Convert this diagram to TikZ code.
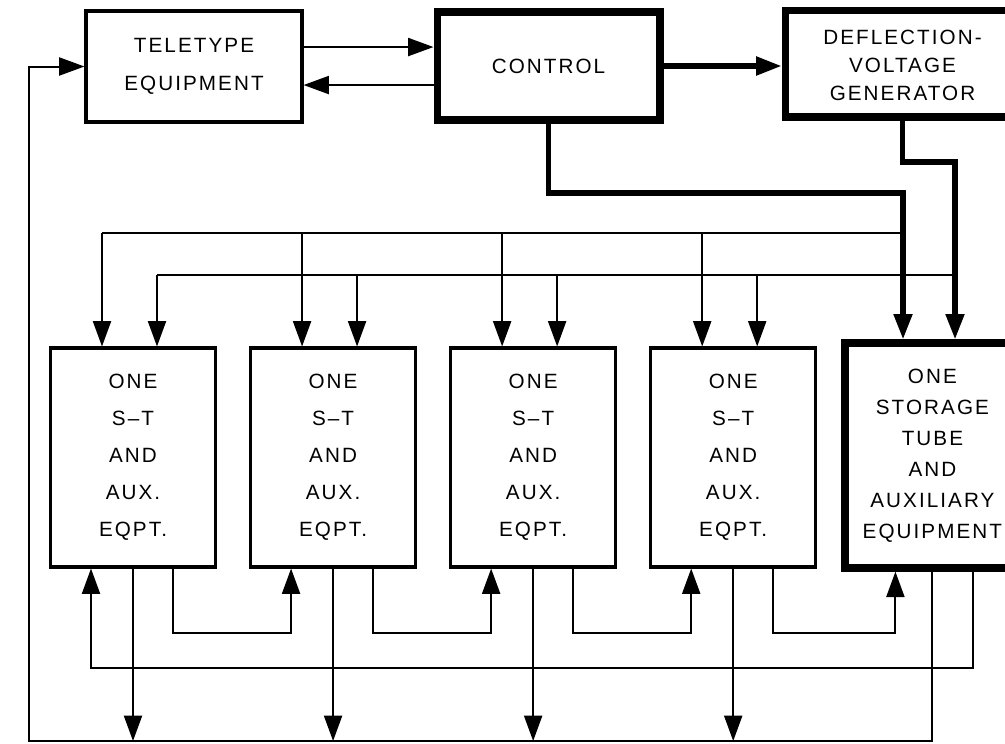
\documentclass[tikz,border=0pt]{standalone}
\usepackage{fontspec}
\setmainfont{Liberation Sans}[LetterSpace=10]
\usetikzlibrary{positioning,arrows.meta}

\begin{document}
\begin{tikzpicture}[x=0.75pt, y=-0.75pt,
	>={Triangle[length=19pt,width=13.5pt]},
	box/.style={draw, line width=2.3pt, align=center, inner sep=0pt},
	heavybox/.style={draw, line width=5.5pt, align=center, inner sep=0pt},
	wire/.style={line width=1.5pt},
	heavy/.style={line width=3.8pt},
	unit/.style={box, minimum width=123.75pt, minimum height=164.25pt,
		font=\fontsize{15.5pt}{27.75pt}\selectfont}]
	\path[use as bounding box] (0,0) rectangle (1005,743);
	\clip (0,0) rectangle (1005,743);

	\node[box, minimum width=162pt, minimum height=83.25pt,
		font=\fontsize{15.5pt}{28.5pt}\selectfont] (tt) at (194,66.5) {TELETYPE\\EQUIPMENT};
	\node[heavybox, minimum width=167pt, minimum height=81pt,
		font=\fontsize{15.5pt}{18pt}\selectfont] (ctl) at (548.5,66) {\raisebox{-2pt}{CONTROL}};
	\node[heavybox, minimum width=176pt, minimum height=80pt,
		font=\fontsize{15.5pt}{21pt}\selectfont] (dvg) at (902.5,63.5)
		{\raisebox{-6.5pt}[0pt][0pt]{\begin{tabular}{@{}c@{}}DEFLECTION-\\VOLTAGE\\GENERATOR\end{tabular}}};

	\node[unit] (st1) at (133,457.5) {ONE\\S--T\\AND\\AUX.\\EQPT.};
	\node[unit, right = 24pt of st1] (st2) {ONE\\S--T\\AND\\AUX.\\EQPT.};
	\node[unit, right = 24pt of st2] (st3) {ONE\\S--T\\AND\\AUX.\\EQPT.};
	\node[unit, right = 24pt of st3] (st4) {ONE\\S--T\\AND\\AUX.\\EQPT.};
	\node[heavybox, right = 18pt of st4, yshift=1.5pt, minimum width=131.25pt, minimum height=168.75pt,
		font=\fontsize{15.5pt}{23.25pt}\selectfont] (sto) {ONE\\STORAGE\\TUBE\\AND\\AUXILIARY\\EQUIPMENT};

	% bends and buses
	\coordinate (cb) at (903,193);
	\coordinate (db) at (955,162);
	\coordinate (ub) at (903,233);
	\coordinate (lb) at (955,275);
	\coordinate (lp) at (0,633);
	\coordinate (mb) at (0,668);
	\coordinate (rb) at (29,741);

	%edges
	\draw[wire,->] ([yshift=14.6pt]tt.east) -- ([yshift=14.6pt]tt.east -| ctl.west);
	\draw[wire,<-] ([yshift=-13.9pt]tt.east) -- ([yshift=-13.9pt]tt.east -| ctl.west);
	\draw[heavy,->] (ctl.east) -- (ctl.east -| dvg.west);
	\draw[heavy,->] (ctl.south) |- (cb) -- (cb |- sto.north);
	\draw[heavy,->] (dvg.south) |- (db) -- (db |- sto.north);

	\foreach \n in {1,...,4}{
		\path (st\n.north) ++(-31,0) coordinate (ta\n) ++(55,0) coordinate (tb\n);
		\path (st\n.south) ++(-42,0) coordinate (ba\n) ++(82,0) coordinate (bb\n);
		\draw[wire,->] (ta\n |- ub) -- (ta\n);
		\draw[wire,->] (tb\n |- lb) -- (tb\n);
		\draw[wire,->] (st\n.south) -- (st\n.south |- rb);
	}
	\path (sto.south) ++(-37,0) coordinate (ba5) ++(78,0) coordinate (bb5);
	\draw[wire] (ub) -- (ta1 |- ub);
	\draw[wire] (lb) -- (tb1 |- lb);

	\foreach \n/\m in {1/2,2/3,3/4,4/5}
		\draw[wire,->] (bb\n) |- (ba\m |- lp) -- (ba\m);

	\draw[wire,->] (bb5) |- (ba1 |- mb) -- (ba1);
	\draw[wire,->] (sto.south) |- (rb) |- (tt.west);
\end{tikzpicture}
\end{document}
